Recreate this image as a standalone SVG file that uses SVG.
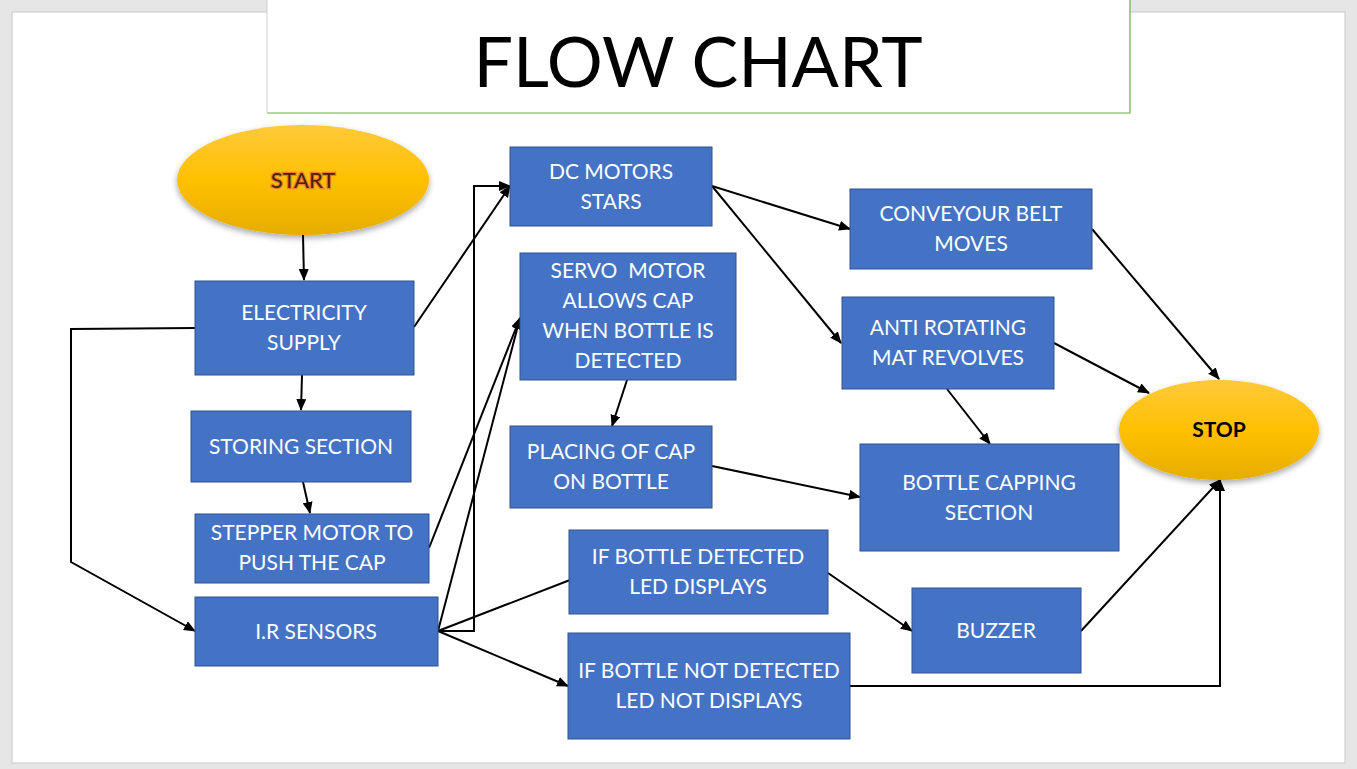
<svg xmlns="http://www.w3.org/2000/svg" width="1357" height="769" viewBox="0 0 1357 769">
<style>
.box{fill:#4472c4;stroke:#2f528f;stroke-width:1}
.t{font-family:Lato,"Open Sans","Liberation Sans",sans-serif;font-size:21px;fill:#ffffff;text-anchor:middle}
.c{fill:none;stroke:#000000;stroke-width:2}
</style>
<defs>
<marker id="ah" markerUnits="userSpaceOnUse" markerWidth="12" markerHeight="10" refX="11" refY="5" orient="auto">
<path d="M0,0 L12,5 L0,10 Z" fill="#000"/>
</marker>
<linearGradient id="gold" x1="0" y1="0" x2="0" y2="1">
<stop offset="0" stop-color="#ffc93c"/>
<stop offset="0.5" stop-color="#ffc000"/>
<stop offset="1" stop-color="#e6ad00"/>
</linearGradient>
<filter id="sh" x="-20%" y="-20%" width="140%" height="150%">
<feGaussianBlur in="SourceAlpha" stdDeviation="3"/>
<feOffset dx="0" dy="3" result="b"/>
<feComponentTransfer><feFuncA type="linear" slope="0.35"/></feComponentTransfer>
<feMerge><feMergeNode/><feMergeNode in="SourceGraphic"/></feMerge>
</filter>
</defs>
<rect x="0" y="0" width="1357" height="769" fill="#e6e6e6"/>
<rect x="12" y="12" width="1333" height="751" fill="#ffffff" stroke="#c8c8c8" stroke-width="1"/>
<g id="title">
<rect x="267" y="-2" width="863" height="115" fill="#ffffff"/>
<path d="M267,113 H1130 V-2" fill="none" stroke="#70ad47" stroke-width="1.2"/>
<path d="M267,-2 V113" fill="none" stroke="#d0d0d0" stroke-width="1"/>
<text x="698" y="87" font-family="Lato,'Open Sans','Liberation Sans',sans-serif" font-size="70" fill="#000" text-anchor="middle">FLOW CHART</text>
</g>
<g id="connectors">
<path class="c" d="M303,235 L304,280" marker-end="url(#ah)"/>
<path class="c" d="M302,375 L301,410" marker-end="url(#ah)"/>
<path class="c" d="M303,482 L310,513" marker-end="url(#ah)"/>
<path class="c" d="M195,328 L71,329 L71,562 L195,631" marker-end="url(#ah)"/>
<path class="c" d="M414,327 L510,186" marker-end="url(#ah)"/>
<path class="c" d="M438,631 L474,631 L474,186 L510,186" marker-end="url(#ah)"/>
<path class="c" d="M429,548 L520,318" marker-end="url(#ah)"/>
<path class="c" d="M438,631 L520,318" marker-end="url(#ah)"/>
<path class="c" d="M438,631 L570,580"/>
<path class="c" d="M438,631 L568,686" marker-end="url(#ah)"/>
<path class="c" d="M712,186 L850,229" marker-end="url(#ah)"/>
<path class="c" d="M712,186 L841,343" marker-end="url(#ah)"/>
<path class="c" d="M627,380 L612,426" marker-end="url(#ah)"/>
<path class="c" d="M712,466 L860,497" marker-end="url(#ah)"/>
<path class="c" d="M947,389 L990,444" marker-end="url(#ah)"/>
<path class="c" d="M1092,229 L1219,379" marker-end="url(#ah)"/>
<path class="c" d="M1054,343 L1149,393" marker-end="url(#ah)"/>
<path class="c" d="M828,573 L912,631" marker-end="url(#ah)"/>
<path class="c" d="M1081,631 L1220,480" marker-end="url(#ah)"/>
<path class="c" d="M850,686 L1220,686 L1220,480" marker-end="url(#ah)"/>
</g>
<g id="start">
<ellipse cx="303" cy="180" rx="126" ry="55" fill="url(#gold)" filter="url(#sh)"/>
<text x="303" y="188" font-family="Lato,'Open Sans','Liberation Sans',sans-serif" font-size="22" fill="#4a2300" stroke="#ed7d31" stroke-width="2.5" paint-order="stroke" text-anchor="middle">START</text>
</g>
<g id="stop">
<ellipse cx="1219" cy="430" rx="100" ry="50" fill="url(#gold)" filter="url(#sh)"/>
<text x="1219" y="437" font-family="Lato,'Open Sans','Liberation Sans',sans-serif" font-size="21" font-weight="bold" fill="#000" text-anchor="middle">STOP</text>
</g>
<g id="dc"><rect class="box" x="510" y="147" width="202" height="79"/><text class="t" x="611" y="179">DC MOTORS</text><text class="t" x="611" y="209">STARS</text></g>
<g id="elec"><rect class="box" x="195" y="281" width="219" height="94"/><text class="t" x="304" y="320">ELECTRICITY</text><text class="t" x="304" y="350">SUPPLY</text></g>
<g id="servo"><rect class="box" x="520" y="253" width="216" height="127"/><text class="t" x="628" y="278" xml:space="preserve">SERVO  MOTOR</text><text class="t" x="628" y="308">ALLOWS CAP</text><text class="t" x="628" y="338">WHEN BOTTLE IS</text><text class="t" x="628" y="368">DETECTED</text></g>
<g id="conv"><rect class="box" x="850" y="189" width="242" height="80"/><text class="t" x="971" y="221">CONVEYOUR BELT</text><text class="t" x="971" y="251">MOVES</text></g>
<g id="anti"><rect class="box" x="842" y="297" width="212" height="92"/><text class="t" x="948" y="335">ANTI ROTATING</text><text class="t" x="948" y="365">MAT REVOLVES</text></g>
<g id="storing"><rect class="box" x="191" y="411" width="220" height="71"/><text class="t" x="301" y="454">STORING SECTION</text></g>
<g id="placing"><rect class="box" x="510" y="426" width="202" height="82"/><text class="t" x="611" y="459">PLACING OF CAP</text><text class="t" x="611" y="489">ON BOTTLE</text></g>
<g id="capping"><rect class="box" x="860" y="444" width="259" height="107"/><text class="t" x="989" y="490">BOTTLE CAPPING</text><text class="t" x="989" y="520">SECTION</text></g>
<g id="stepper"><rect class="box" x="195" y="514" width="234" height="69"/><text class="t" x="312" y="540">STEPPER MOTOR TO</text><text class="t" x="312" y="570">PUSH THE CAP</text></g>
<g id="detected"><rect class="box" x="569" y="530" width="259" height="84"/><text class="t" x="698" y="564">IF BOTTLE DETECTED</text><text class="t" x="698" y="594">LED DISPLAYS</text></g>
<g id="ir"><rect class="box" x="195" y="597" width="243" height="69"/><text class="t" x="316" y="639">I.R SENSORS</text></g>
<g id="buzzer"><rect class="box" x="912" y="588" width="169" height="85"/><text class="t" x="996" y="638">BUZZER</text></g>
<g id="notdetected"><rect class="box" x="568" y="633" width="282" height="106"/><text class="t" x="709" y="678">IF BOTTLE NOT DETECTED</text><text class="t" x="709" y="708">LED NOT DISPLAYS</text></g>
</svg>
